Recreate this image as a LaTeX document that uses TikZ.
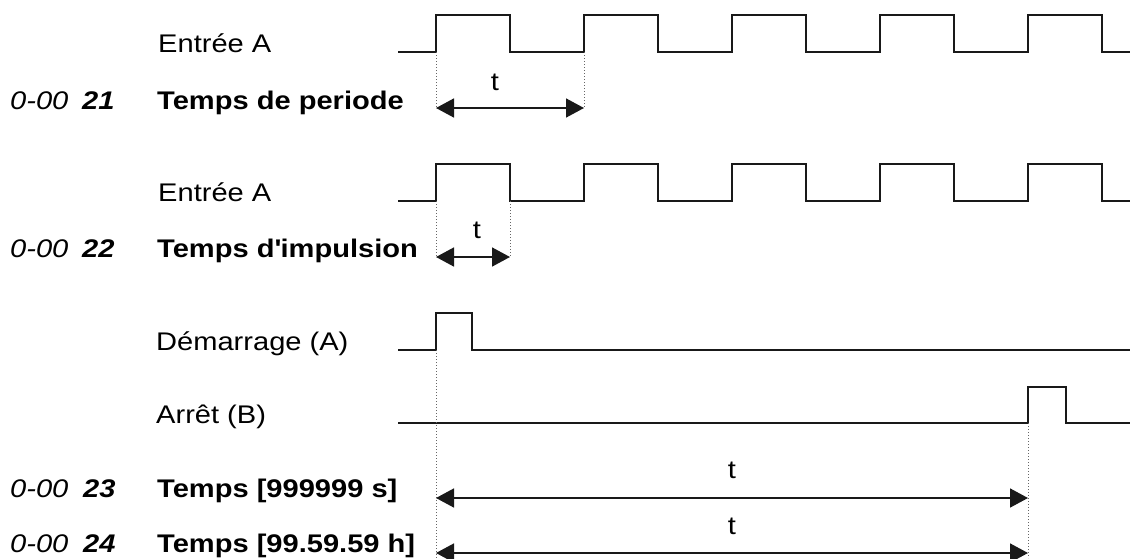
\documentclass[tikz,border=0pt]{standalone}
\usepackage{fontspec}
\setmainfont{Liberation Sans}[FakeStretch=1.14]
\usetikzlibrary{arrows.meta}
\newcommand\sqapos{\XeTeXglyph\XeTeXcharglyph"0027\relax}
\begin{document}
\begin{tikzpicture}[x=1pt,y=-1pt,
  lbl/.style={anchor=base west,inner sep=0pt,font=\fontsize{25.5}{30}\selectfont},
  tlbl/.style={anchor=base,inner sep=0pt,font=\fontsize{25.5}{30}\selectfont},
  wave/.style={line width=1.5pt,draw=black!90,line join=miter},
  guide/.style={line width=1pt,draw=black!60,dash pattern=on 1pt off 2pt},
  dimarrow/.style={line width=1.6pt,draw=black!90,
    {Triangle[length=18pt,width=19pt]}-{Triangle[length=18pt,width=19pt]}}]
\useasboundingbox (0,0) rectangle (1130,558);
% labels
\node[lbl] (ea1) at (158,52) {Entrée A};
\node[lbl] (c21) at (10,109) {\itshape 0-00};
\node[lbl] (n21) at (82,109) {\bfseries\itshape 21};
\node[lbl] (t21) at (157,109) {\bfseries Temps de periode};
\node[lbl] (ea2) at (158,201) {Entrée A};
\node[lbl] (c22) at (10,257) {\itshape 0-00};
\node[lbl] (n22) at (82,257) {\bfseries\itshape 22};
\node[lbl] (t22) at (157,257) {\bfseries Temps d\sqapos impulsion};
\node[lbl] (dem) at (156,350) {Démarrage (A)};
\node[lbl] (arr) at (156,423) {Arrêt (B)};
\node[lbl] (c23) at (10,497) {\itshape 0-00};
\node[lbl] (n23) at (83,497) {\bfseries\itshape 23};
\node[lbl] (t23) at (157,497) {\bfseries Temps [999999 s]};
\node[lbl] (c24) at (10,552) {\itshape 0-00};
\node[lbl] (n24) at (83,552) {\bfseries\itshape 24};
\node[lbl] (t24) at (157,552) {\bfseries Temps [99.59.59 h]};
% waveforms
\draw[wave] (398,52) -- (436,52) -- (436,15) -- (510,15) -- (510,52) -- (584,52) -- (584,15) -- (658,15) -- (658,52)
  -- (732,52) -- (732,15) -- (806,15) -- (806,52) -- (880,52) -- (880,15) -- (954,15) -- (954,52)
  -- (1028,52) -- (1028,15) -- (1102,15) -- (1102,52) -- (1130,52);
\draw[wave] (398,201) -- (436,201) -- (436,164) -- (510,164) -- (510,201) -- (584,201) -- (584,164) -- (658,164) -- (658,201)
  -- (732,201) -- (732,164) -- (806,164) -- (806,201) -- (880,201) -- (880,164) -- (954,164) -- (954,201)
  -- (1028,201) -- (1028,164) -- (1102,164) -- (1102,201) -- (1130,201);
\draw[wave] (398,350) -- (436,350) -- (436,313) -- (472,313) -- (472,350) -- (1130,350);
\draw[wave] (398,423) -- (1028,423) -- (1028,387) -- (1066,387) -- (1066,423) -- (1130,423);
% guide coordinates
\coordinate (g1a) at (436,52);  \coordinate (g1b) at (436,108);
\coordinate (g2a) at (584,52);  \coordinate (g2b) at (584,108);
\coordinate (g3a) at (436,201); \coordinate (g3b) at (436,257);
\coordinate (g4a) at (510,201); \coordinate (g4b) at (510,257);
\coordinate (g5a) at (436,350); \coordinate (g5b) at (436,558);
\coordinate (g6a) at (1028,423); \coordinate (g6b) at (1028,558);
\draw[guide] (g1a) -- (g1b);
\draw[guide] (g2a) -- (g2b);
\draw[guide] (g3a) -- (g3b);
\draw[guide] (g4a) -- (g4b);
\draw[guide] (g5a) -- (g5b);
\draw[guide] (g6a) -- (g6b);
% dimension arrows
\draw[dimarrow] (g1b) -- (g2b);
\draw[dimarrow] (g3b) -- (g4b);
\coordinate (a3l) at (436,498); \coordinate (a3r) at (1028,498);
\coordinate (a4l) at (436,553); \coordinate (a4r) at (1028,553);
\draw[dimarrow] (a3l) -- (a3r);
\draw[dimarrow] (a4l) -- (a4r);
\node[tlbl] (tt1) at (495,90) {t};
\node[tlbl] (tt2) at (477,238) {t};
\node[tlbl] (tt3) at (732,478) {t};
\node[tlbl] (tt4) at (732,534) {t};
\end{tikzpicture}
\end{document}
